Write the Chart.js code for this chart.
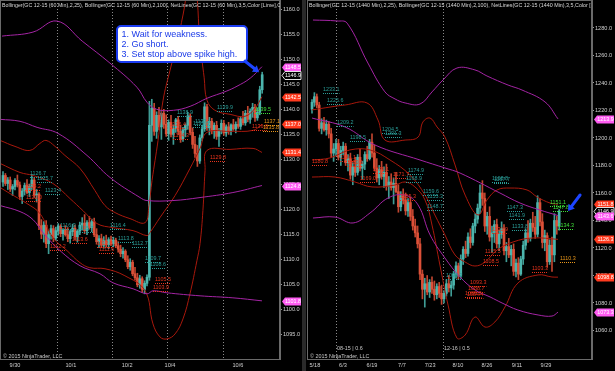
<!DOCTYPE html>
<html><head><meta charset="utf-8">
<script src="https://cdn.jsdelivr.net/npm/chart.js@4.4.1/dist/chart.umd.min.js"></script>
<style>
html,body{margin:0;padding:0;background:#000;width:615px;height:371px;overflow:hidden;}
canvas{position:absolute;top:0;}
#cl{left:0;} #cr{left:306px;}
#sep{position:absolute;left:302px;top:0;width:4px;height:371px;background:#2a2a2a;}
</style></head><body>
<canvas id="cl" width="302" height="371"></canvas>
<div id="sep"></div>
<canvas id="cr" width="309" height="371"></canvas>
<script>
// ---------------- LEFT PANEL (GC 12-15, 60 Min) ----------------
const leftOpen = [1125.5,1126.8,1125.2,1125.9,1124.1,1124.6,1125.8,1124.9,1122.6,1123.7,
1124.8,1123.4,1124.6,1125.9,1122.9,1123.1,1116.8,1115.1,1116.9,1113.2,
1115.0,1116.2,1114.3,1115.8,1116.7,1115.2,1115.9,1115.0,1114.2,1115.6,
1116.3,1114.6,1115.7,1116.9,1117.3,1115.8,1117.4,1116.4,1117.6,1115.0,
1113.6,1114.2,1112.9,1113.8,1113.0,1114.0,1113.2,1113.9,1112.8,1112.1,
1111.2,1111.7,1110.0,1108.6,1109.5,1107.2,1106.4,1105.0,1106.2,1104.1,
1105.3,1106.5,1136.8,1140.2,1135.6,1138.8,1136.5,1139.2,1137.0,1135.1,
1137.4,1135.0,1136.2,1137.9,1135.6,1134.1,1135.9,1136.8,1138.7,1135.4,
1133.0,1131.2,1129.7,1134.3,1136.1,1140.5,1136.3,1137.6,1135.7,1136.8,
1134.6,1135.8,1137.2,1135.3,1136.5,1135.6,1136.9,1136.1,1137.0,1136.6,
1138.1,1137.3,1139.2,1138.0,1139.6,1140.4,1138.3,1139.4,1143.9];
const leftHigh = [1127.6,1127.2,1126.4,1126.5,1125.0,1126.2,1126.9,1125.5,1124.2,1125.3,
1126.0,1125.1,1127.0,1126.4,1124.0,1123.4,1118.0,1117.6,1117.8,1115.8,
1116.9,1116.8,1116.5,1117.2,1117.0,1116.2,1116.8,1116.4,1115.9,1117.1,
1116.9,1116.0,1117.5,1118.4,1119.0,1117.8,1118.6,1118.1,1118.3,1116.2,
1114.8,1115.1,1114.6,1114.9,1114.4,1114.7,1114.5,1114.3,1113.6,1112.9,
1112.4,1112.0,1110.8,1110.2,1109.9,1108.5,1107.3,1106.9,1106.6,1105.8,
1107.0,1141.6,1142.0,1141.2,1139.5,1140.4,1139.8,1140.0,1138.9,1137.9,
1138.8,1136.9,1138.2,1138.6,1136.8,1136.4,1137.1,1139.4,1139.1,1136.3,
1134.6,1132.8,1134.9,1136.8,1141.3,1141.0,1138.4,1138.2,1137.3,1137.6,
1136.2,1137.9,1137.8,1136.9,1137.4,1137.1,1138.0,1137.5,1138.3,1138.6,
1139.6,1139.8,1140.6,1140.1,1141.2,1141.0,1140.3,1144.6,1147.4];
const leftLow = [1124.6,1124.8,1124.0,1123.6,1122.8,1123.9,1124.5,1122.0,1121.2,1122.9,
1123.1,1122.6,1124.0,1122.4,1121.5,1116.0,1114.2,1113.5,1112.4,1111.2,
1114.1,1113.6,1113.8,1114.9,1114.6,1113.9,1114.7,1113.6,1113.3,1114.8,
1114.0,1113.5,1115.0,1115.9,1115.2,1115.0,1116.1,1115.6,1114.6,1113.1,
1112.4,1112.6,1112.3,1112.5,1112.2,1112.8,1112.6,1112.4,1111.5,1110.6,
1110.3,1109.6,1108.2,1107.9,1106.8,1105.9,1104.6,1104.3,1103.5,1103.2,
1104.8,1105.9,1133.6,1134.8,1134.2,1135.9,1134.0,1136.2,1134.6,1133.8,
1134.5,1133.0,1135.4,1134.9,1133.4,1133.6,1134.5,1136.0,1134.9,1132.2,
1130.4,1128.6,1129.2,1133.7,1135.6,1135.8,1134.9,1135.1,1134.2,1134.0,
1132.6,1135.1,1134.8,1134.6,1135.0,1134.9,1135.8,1135.3,1136.2,1136.0,
1136.9,1136.8,1137.5,1137.2,1138.4,1137.6,1137.8,1138.9,1143.2];
const leftClose = [1126.8,1125.2,1125.9,1124.1,1124.6,1125.8,1124.9,1122.6,1123.7,1124.8,
1123.4,1124.6,1125.9,1122.9,1123.1,1116.8,1115.1,1116.9,1113.2,1115.0,
1116.2,1114.3,1115.8,1116.7,1115.2,1115.9,1115.0,1114.2,1115.6,1116.3,
1114.6,1115.7,1116.9,1117.3,1115.8,1117.4,1116.4,1117.6,1115.0,1113.6,
1114.2,1112.9,1113.8,1113.0,1114.0,1113.2,1113.9,1112.8,1112.1,1111.2,
1111.7,1110.0,1108.6,1109.5,1107.2,1106.4,1105.0,1106.2,1104.1,1105.3,
1106.5,1136.8,1140.2,1135.6,1138.8,1136.5,1139.2,1137.0,1135.1,1137.4,
1135.0,1136.2,1137.9,1135.6,1134.1,1135.9,1136.8,1138.7,1135.4,1133.0,
1131.2,1129.7,1134.3,1136.1,1140.5,1136.3,1137.6,1135.7,1136.8,1134.6,
1135.8,1137.2,1135.3,1136.5,1135.6,1136.9,1136.1,1137.0,1136.6,1138.1,
1137.3,1139.2,1138.0,1139.6,1140.4,1138.3,1139.4,1143.9,1146.9];
// Bollinger(100) purple, Bollinger(25) dark red : [bar index, price]
const leftBB100Upper = [[-0.4,1154.6],[12.5,1155.4],[22.5,1157.6],[33,1153.6],[44.6,1149.2],[55.8,1144.4],[60,1141.4],[64,1140],[71,1139.8],[78,1140.6],[85,1142.2],[93,1143.6],[97.5,1144.6],[103,1146.2],[107.9,1148.5]];
const leftBB100Mid = [[-1.2,1138],[7.1,1137.6],[14.2,1136.4],[22.9,1135.2],[35,1130.8],[44.6,1126.4],[57.1,1122.4],[60,1121.8],[70.8,1121.8],[82.1,1122.4],[95.8,1123.4],[107.9,1124.8]];
const leftBB100Lower = [[-1.2,1120.8],[7.1,1119.6],[12.5,1118],[16.7,1115.4],[23.8,1111.8],[32.1,1108.8],[40.4,1107.2],[45.8,1105.4],[54.2,1104.2],[60,1103.2],[62.5,1103.8],[68.3,1103.4],[82.1,1102.8],[95.8,1102.4],[107.9,1101.8]];
const leftBB25Upper = [[-1.2,1133.8],[5,1132.6],[11.2,1131.8],[15.4,1133.2],[17.9,1133.8],[21.7,1132.6],[25.8,1130.8],[32.1,1128.2],[38.3,1123.8],[42.5,1120.8],[46.7,1119.4],[52.9,1118.2],[59.2,1117.4],[60.8,1120.8],[62.1,1125.8],[64.6,1133.8],[66.7,1141.8],[69.6,1147.8],[72.5,1153.2],[75,1158.8],[77.9,1165.8],[80,1165.8],[82.1,1153.2],[83.8,1146.4],[85,1141.8],[88.3,1139.8],[94.6,1139],[100.8,1138.6],[105,1140.2],[107.9,1142.5]];
const leftBB25Mid = [[-1.2,1129.2],[7.1,1127.4],[12.5,1126.8],[20.8,1125.2],[27.9,1122.2],[33.3,1119.8],[39.2,1117.2],[45.8,1116.4],[54.2,1115.8],[60,1114.8],[61.2,1115.4],[65.4,1118.4],[71.7,1122.8],[77.9,1128.2],[82.1,1132.2],[85,1135.4],[94.6,1135.6],[104.2,1135.8],[107.9,1137.0]];
const leftBB25Lower = [[-1.2,1124.4],[2.9,1123.2],[10,1121.2],[15.4,1119.2],[20.8,1114.4],[26.7,1111.8],[32.1,1109.4],[36.2,1108.4],[42.5,1108.2],[50.8,1106.8],[59.2,1103.8],[62.5,1097.2],[65.4,1094.6],[68.3,1094.2],[71.7,1095.2],[75,1098.2],[77.9,1103.2],[80.8,1109.8],[82.1,1113.2],[83.3,1119.8],[84.2,1127.8],[85,1131.8],[94.6,1132],[104.2,1132.2],[107.9,1131.4]];
// NetLines price labels: [bar index, price, kind]
const leftNetLabels = [[11.2,1126.7,'u'],[14.2,1125.7,'u'],[17.5,1123.4,'u'],[9.2,1124.2,'d'],[9.6,1122.0,'d'],[23.8,1116.3,'u'],[31.2,1115.7,'u'],[44.6,1116.4,'u'],[47.9,1113.8,'u'],[53.8,1112.7,'u'],[19.6,1112.2,'d'],[28.8,1113.6,'d'],[39.2,1112.8,'d'],[40,1111.6,'d'],[59.2,1109.7,'u'],[61.2,1108.6,'u'],[63.3,1105.5,'d'],[62.5,1103.9,'d'],[72.5,1138.9,'u'],[80,1137.1,'u'],[79.2,1136.6,'u'],[89.2,1139.9,'u'],[69.6,1136.4,'d'],[70.8,1134.3,'d'],[86.2,1129.8,'d'],[105,1139.5,'g'],[103.8,1136.0,'d'],[108.8,1137.1,'o'],[108.3,1135.8,'o']];
const leftBadges = [[1148.5,'m'],[1146.9,'c'],[1142.5,'r'],[1137.0,'r'],[1131.4,'r'],[1124.8,'m'],[1101.8,'m']];
const leftYTicks = [1095,1100,1105,1110,1115,1120,1125,1130,1135,1140,1145,1150,1155,1160];
const leftXTickPos = [5,28.3,51.7,69.6,97.9];
const leftXTickLabels = ['9/30','10/1','10/2','10/4','10/6'];
const leftSessionLines = [22.5,45.4,68.3,91.7];
const leftHeader = 'Bollinger(GC 12-15 (60 Min),2,25), Bollinger(GC 12-15 (60 Min),2,100), NetLines(GC 12-15 (60 Min),3,5,Color [Lime],C';
const calloutLines = ['1. Wait for weakness.','2. Go short.','3. Set stop above spike high.'];

// ---------------- RIGHT PANEL (GC 12-15, 1440 Min) ----------------
const rightOpen = [1221,1226,1230,1224,1207,1211,1206,1210,1203,1189,
1192,1196,1186,1191,1194,1182,1185,1173,1179,1175,
1186,1178,1181,1188,1185,1197,1189,1178,1171,1177,
1172,1175,1165,1168,1164,1167,1161,1150,1158,1155,
1147,1153,1143,1136,1131,1123,1101,1090,1094,1088,
1095,1090,1086,1092,1087,1083,1087,1094,1091,1093,
1101,1107,1100,1112,1119,1116,1128,1124,1136,1141,
1149,1160,1156,1136,1143,1128,1131,1137,1123,1130,
1134,1118,1121,1115,1119,1103,1109,1101,1112,1122,
1131,1127,1138,1135,1130,1153,1139,1124,1129,1110,
1122,1115,1140,1136];
const rightHigh = [1228,1233,1232,1226,1214,1215,1213,1212,1207,1196,
1199,1199,1194,1197,1196,1188,1189,1182,1186,1188,
1192,1183,1190,1194,1199,1203,1195,1185,1180,1183,
1179,1181,1172,1174,1171,1175,1166,1161,1163,1160,
1156,1157,1148,1141,1136,1127,1104,1098,1100,1097,
1099,1096,1094,1095,1093,1089,1097,1100,1096,1103,
1110,1109,1115,1121,1125,1131,1134,1138,1145,1152,
1166,1169,1160,1146,1150,1136,1140,1141,1133,1139,
1137,1124,1127,1122,1123,1112,1113,1114,1125,1134,
1140,1141,1146,1143,1158,1156,1145,1133,1131,1126,
1128,1145,1143,1148];
const rightLow = [1218,1223,1222,1205,1203,1205,1202,1200,1186,1183,
1187,1184,1180,1188,1180,1176,1170,1166,1172,1173,
1176,1170,1177,1183,1184,1186,1176,1168,1166,1170,
1164,1162,1156,1162,1152,1160,1146,1147,1152,1144,
1143,1140,1133,1128,1120,1097,1083,1077,1086,1084,
1087,1082,1083,1084,1079,1080,1085,1088,1085,1090,
1098,1097,1098,1108,1113,1114,1120,1122,1131,1138,
1145,1151,1132,1130,1125,1117,1124,1120,1118,1127,
1115,1110,1113,1107,1100,1099,1097,1100,1108,1119,
1124,1125,1132,1127,1128,1136,1120,1118,1106,1108,
1103,1110,1130,1133];
const rightClose = [1226,1230,1224,1207,1211,1206,1210,1203,1189,1192,
1196,1186,1191,1194,1182,1185,1173,1179,1175,1186,
1178,1181,1188,1185,1197,1189,1178,1171,1177,1172,
1175,1165,1168,1164,1167,1161,1150,1158,1155,1147,
1153,1143,1136,1131,1123,1101,1090,1094,1088,1095,
1090,1086,1092,1087,1083,1087,1094,1091,1093,1101,
1107,1100,1112,1119,1116,1128,1124,1136,1141,1149,
1160,1156,1136,1143,1128,1131,1137,1123,1130,1134,
1118,1121,1115,1119,1103,1109,1101,1112,1122,1131,
1127,1138,1135,1130,1153,1139,1124,1129,1110,1122,
1115,1140,1136,1146.9];
const rightBB100Upper = [[0.4,1285.8],[10.4,1285.1],[14.6,1283.6],[23.3,1254.5],[30.4,1233.5],[34.6,1228.4],[38.8,1225.5],[45,1224.7],[50,1233.5],[54.6,1242.2],[60.4,1250.9],[67.9,1249.5],[72.9,1245.1],[81.7,1238.5],[87.5,1234.9],[97.1,1226.2],[102.5,1213.9]];
const rightBB100Mid = [[0,1214.5],[13.8,1208],[26.2,1194.9],[45,1184],[55.4,1178.2],[61.7,1174.5],[78.3,1160],[86.7,1152.7],[95,1147.6],[102.5,1143.6]];
const rightBB100Lower = [[0.4,1141.8],[9.6,1142.5],[17.1,1138.2],[24.2,1145.5],[31.7,1156.4],[38.8,1158.5],[44.2,1151.3],[49.2,1129.5],[55.4,1112.7],[61.7,1098.9],[67.9,1089.5],[74.2,1084.4],[79.2,1080],[85.8,1074.9],[94.2,1071.3],[100,1070.5],[102.5,1073.3]];
const rightBB25Upper = [[0,1220.4],[7.5,1222.5],[13.8,1224],[22.9,1225.5],[27.5,1213.1],[30.4,1198.5],[38.8,1198.5],[44.2,1200.7],[46.2,1211.6],[49.2,1214.5],[52.1,1208],[55.4,1200.7],[59.6,1180.4],[63.8,1158.5],[69.2,1144],[72.9,1154.9],[77.1,1162.2],[82.5,1163.6],[89.6,1162.2],[93.8,1157.1],[99.2,1152.7],[102.5,1151.8]];
const rightBB25Mid = [[0,1184],[7.5,1185.5],[15.8,1191.3],[24.2,1191.3],[32.5,1184],[40.8,1173.1],[47.1,1158.5],[51.2,1144],[55.4,1129.5],[59.6,1114.9],[63.8,1109.8],[67.9,1106.9],[72.1,1109.8],[77.1,1118.5],[83.8,1124.4],[92.1,1127.3],[102.5,1126.3]];
const rightBB25Lower = [[0,1171.6],[9.6,1171.6],[17.9,1168],[25,1164.4],[34.6,1165.8],[38.8,1168],[42.9,1164.4],[47.1,1154.9],[50,1136.7],[53.3,1107.6],[56.7,1078.5],[60.4,1054.5],[63.8,1056.7],[67.9,1069.8],[72.1,1062.5],[76.2,1066.2],[80.4,1077.1],[85.8,1094.5],[94.2,1100.4],[100,1098.9],[102.5,1098.8]];
const rightNetLabels = [[4.6,1233.1,'u'],[6.2,1225.6,'u'],[10.4,1209.2,'u'],[29.2,1204.5,'u'],[30.4,1201.3,'u'],[15.8,1198.5,'u'],[0,1180.8,'d'],[11.7,1184.1,'d'],[14.6,1180.6,'d'],[25.4,1175.1,'d'],[20,1169.0,'d'],[33.8,1171.7,'d'],[40,1174.9,'u'],[39.2,1168.9,'u'],[36.7,1155.3,'d'],[46.2,1159.6,'u'],[47.9,1155.3,'u'],[47.9,1148.7,'u'],[55.8,1098.2,'u'],[75,1168.8,'u'],[75.8,1167.7,'u'],[81.2,1147.3,'u'],[82,1141.9,'u'],[83.3,1133.8,'u'],[75,1131.9,'d'],[72,1115.5,'d'],[71.2,1108.5,'d'],[65.8,1093.3,'d'],[65,1088.7,'d'],[63.8,1085.2,'d'],[64.6,1084.4,'d'],[91.7,1103.3,'d'],[99.2,1151.1,'g'],[100.4,1147.8,'g'],[102.5,1134.3,'g'],[103.3,1110.3,'o']];
const rightBadges = [[1213.9,'m'],[1151.8,'r'],[1146.9,'c'],[1143.6,'m'],[1126.3,'r'],[1098.8,'r'],[1073.3,'m']];
const rightYTicks = [1060,1080,1100,1120,1140,1160,1180,1200,1220,1240,1260,1280];
const rightXTickPos = [1.2,12.9,25,37.5,49.2,60.8,72.9,85.4,97.5];
const rightXTickLabels = ['5/18','6/3','6/19','7/7','7/23','8/10','8/26','9/11','9/29'];
const rightRollLines = [10,54.6];
const rightRollLabels = ['08-15 | 0.6','12-16 | 0.5'];
const rightHeader = 'Bollinger(GC 12-15 (1440 Min),2,25), Bollinger(GC 12-15 (1440 Min),2,100), NetLines(GC 12-15 (1440 Min),3,5,Color [';

// ---------------- STYLE / BUILD ----------------
const FONT = '"Liberation Sans", Arial, sans-serif';
const UP = '#4cb5ad', DN = '#dc5038', UPW = '#3f9c95', DNW = '#c0452f';
const PURPLE = '#a424a4', DRED = '#a8180c';
const LBL = {u:'#2a9d98', d:'#e8331c', g:'#3ee03a', o:'#e8961a'};

function candles(O,H,L,C){
  const up = C.map((c,i)=>c>=O[i]);
  return [
    {type:'bar', data:O.map((o,i)=>({x:i,y:[L[i],H[i]]})), backgroundColor:up.map(u=>u?UPW:DNW), barThickness:1, grouped:false, order:3},
    {type:'bar', data:O.map((o,i)=>({x:i,y:[o,C[i]]})), backgroundColor:up.map(u=>u?UP:DN), barThickness:2, minBarLength:1, grouped:false, order:2}
  ];
}
function band(pts,color){
  return {type:'line', data:pts.map(p=>({x:p[0],y:p[1]})), borderColor:color, borderWidth:1, pointRadius:0, tension:0.4, order:1, fill:false};
}
function makeDeco(cfg){
  return {
    id:'deco',
    beforeDatasetsDraw(chart){
      const {ctx,chartArea:a,scales:{x}} = chart;
      ctx.save(); ctx.strokeStyle='#8a8a8a'; ctx.lineWidth=1; ctx.setLineDash([1,2]);
      cfg.vlines.forEach(v=>{const px=Math.round(x.getPixelForValue(v))+0.5; ctx.beginPath(); ctx.moveTo(px,a.top); ctx.lineTo(px,a.bottom); ctx.stroke();});
      ctx.restore();
    },
    afterDraw(chart){
      const {ctx,chartArea:a,scales:{x,y}} = chart;
      ctx.save();
      ctx.strokeStyle='#6a6a6a'; ctx.lineWidth=1;
      ctx.strokeRect(a.left-0.5,a.top+0.5,a.right-a.left,a.bottom-a.top);
      ctx.save(); ctx.beginPath(); ctx.rect(a.left,a.top,a.right-a.left,a.bottom-a.top); ctx.clip();
      ctx.font = '5px '+FONT; let hw = ctx.measureText(cfg.header).width;
      ctx.font = (5*cfg.headerW/hw).toFixed(2)+'px '+FONT;
      ctx.fillStyle='#d8d8d8'; ctx.textBaseline='alphabetic'; ctx.fillText(cfg.header,a.left+1,7);
      ctx.font='5.4px '+FONT; ctx.lineWidth=1;
      cfg.labels.forEach(([i,v,k])=>{
        const px=Math.round(x.getPixelForValue(i)), py=Math.round(y.getPixelForValue(v));
        const t=v.toFixed(1), w=ctx.measureText(t).width;
        ctx.fillStyle=LBL[k]; ctx.fillText(t,px,py-1);
        ctx.strokeStyle=LBL[k]; ctx.setLineDash([1,1]);
        ctx.beginPath(); ctx.moveTo(px,py+1.5); ctx.lineTo(px+w,py+1.5); ctx.stroke();
      });
      ctx.setLineDash([]);
      ctx.font='5.4px '+FONT; ctx.fillStyle='#c8c8c8';
      ctx.fillText('\u00A9 2015 NinjaTrader, LLC',a.left+2,a.bottom-1.5);
      if(cfg.roll){cfg.roll.forEach((r,k)=>{ctx.fillText(r,x.getPixelForValue(cfg.vlines[k])+1,a.bottom-9);});}
      ctx.restore();
      ctx.font='5.4px '+FONT; ctx.textAlign='center'; ctx.textBaseline='middle';
      cfg.badges.forEach(([v,k])=>{
        const py=Math.round(y.getPixelForValue(v))+0.5, bx=a.right+2, bw=cfg.badgeW, h=4;
        ctx.beginPath(); ctx.moveTo(bx,py); ctx.lineTo(bx+3,py-h); ctx.lineTo(bx+bw,py-h); ctx.lineTo(bx+bw,py+h); ctx.lineTo(bx+3,py+h); ctx.closePath();
        if(k==='c'){ctx.fillStyle='#000'; ctx.fill(); ctx.strokeStyle='#e0e0e0'; ctx.lineWidth=1; ctx.stroke(); ctx.fillStyle='#fff';}
        else {ctx.fillStyle = k==='m'?'#ff5cf2':'#ff3a1e'; ctx.fill(); ctx.fillStyle='#fff';}
        ctx.fillText(v.toFixed(1), bx+bw/2+1.5, py+0.5);
      });
      ctx.textAlign='left'; ctx.textBaseline='alphabetic';
      if(cfg.callout){
        const c=cfg.callout, [x0,y0,x1,y1]=c.box;
        ctx.beginPath(); ctx.roundRect(x0,y0,x1-x0,y1-y0,4);
        ctx.fillStyle='#fff'; ctx.fill(); ctx.strokeStyle='#1b3cf2'; ctx.lineWidth=2; ctx.stroke();
        ctx.font='9px '+FONT; let tw=ctx.measureText(c.lines[2]).width;
        ctx.font=(9*116/tw).toFixed(2)+'px '+FONT; ctx.fillStyle='#1a3ae8';
        c.lines.forEach((l,k)=>ctx.fillText(l,x0+4.5,y0+11+k*10));
      }
      if(cfg.arrow){
        const r=cfg.arrow, tx=x.getPixelForValue(r.tip[0]), ty=y.getPixelForValue(r.tip[1]);
        const sx=tx+r.from[0], sy=ty+r.from[1];
        const ang=Math.atan2(ty-sy,tx-sx), L=6;
        const bx=tx-Math.cos(ang)*L, by=ty-Math.sin(ang)*L;
        ctx.strokeStyle='#1d45ff'; ctx.fillStyle='#1d45ff'; ctx.lineWidth=3; ctx.lineCap='round';
        ctx.beginPath(); ctx.moveTo(sx,sy); ctx.lineTo(bx,by); ctx.stroke();
        ctx.beginPath(); ctx.moveTo(tx,ty);
        ctx.lineTo(bx+Math.cos(ang+Math.PI/2)*4,by+Math.sin(ang+Math.PI/2)*4);
        ctx.lineTo(bx+Math.cos(ang-Math.PI/2)*4,by+Math.sin(ang-Math.PI/2)*4);
        ctx.closePath(); ctx.fill();
      }
      ctx.restore();
    }
  };
}
function build(id, cfg){
  new Chart(document.getElementById(id), {
    type:'bar',
    data:{datasets:[...cfg.bands.map(b=>band(b[0],b[1])), ...candles(cfg.O,cfg.H,cfg.L,cfg.C)]},
    options:{
      responsive:false, animation:false, devicePixelRatio:1, events:[],
      layout:{padding:{left:cfg.padL,right:0,top:0,bottom:0}},
      plugins:{legend:{display:false}, tooltip:{enabled:false}},
      scales:{
        x:{type:'linear', min:cfg.xmin, max:cfg.xmax, offset:false,
           grid:{display:false, drawTicks:false, tickLength:0}, border:{display:false},
           afterBuildTicks:s=>{s.ticks=cfg.xPos.map(v=>({value:v}));},
           afterFit:s=>{s.height=12; s.paddingLeft=0; s.paddingRight=0;},
           ticks:{autoSkip:false, maxRotation:0, padding:3, color:'#cfcfcf', font:{family:FONT,size:5.6}, callback:(v,i)=>cfg.xLab[i]}},
        y:{type:'linear', position:'right', min:cfg.ymin, max:cfg.ymax,
           grid:{drawOnChartArea:false, tickLength:2, color:'#9a9a9a'}, border:{color:'#6a6a6a'},
           afterBuildTicks:s=>{s.ticks=cfg.yTicks.map(v=>({value:v}));},
           afterFit:s=>{s.width=cfg.yW; s.paddingTop=0; s.paddingBottom=0;},
           ticks:{autoSkip:false, padding:1, color:'#cfcfcf', font:{family:FONT,size:5.6}, callback:v=>v.toFixed(1)}}
      }
    },
    plugins:[makeDeco(cfg)]
  });
}
build('cl',{O:leftOpen,H:leftHigh,L:leftLow,C:leftClose,
  bands:[[leftBB100Upper,PURPLE],[leftBB100Mid,PURPLE],[leftBB100Lower,PURPLE],[leftBB25Upper,DRED],[leftBB25Mid,DRED],[leftBB25Lower,DRED]],
  xmin:-0.833, xmax:115.42, ymin:1090.2, ymax:1161.8, padL:1, yW:22,
  xPos:leftXTickPos, xLab:leftXTickLabels, yTicks:leftYTicks, vlines:leftSessionLines,
  labels:leftNetLabels, badges:leftBadges, badgeW:19, header:leftHeader, headerW:279,
  callout:{box:[117,26,247,62], lines:calloutLines},
  arrow:{tip:[106.7,1147.4], from:[-14,-11]}});
build('cr',{O:rightOpen,H:rightHigh,L:rightLow,C:rightClose,
  bands:[[rightBB100Upper,PURPLE],[rightBB100Mid,PURPLE],[rightBB100Lower,PURPLE],[rightBB25Upper,DRED],[rightBB25Mid,DRED],[rightBB25Lower,DRED]],
  xmin:-1.667, xmax:116.67, ymin:1039.27, ymax:1300.36, padL:2, yW:23,
  xPos:rightXTickPos, xLab:rightXTickLabels, yTicks:rightYTicks, vlines:rightRollLines, roll:rightRollLabels,
  labels:rightNetLabels, badges:rightBadges, badgeW:20, header:rightHeader, headerW:282,
  arrow:{tip:[106.7,1146.9], from:[12,-16]}});
</script></body></html>
